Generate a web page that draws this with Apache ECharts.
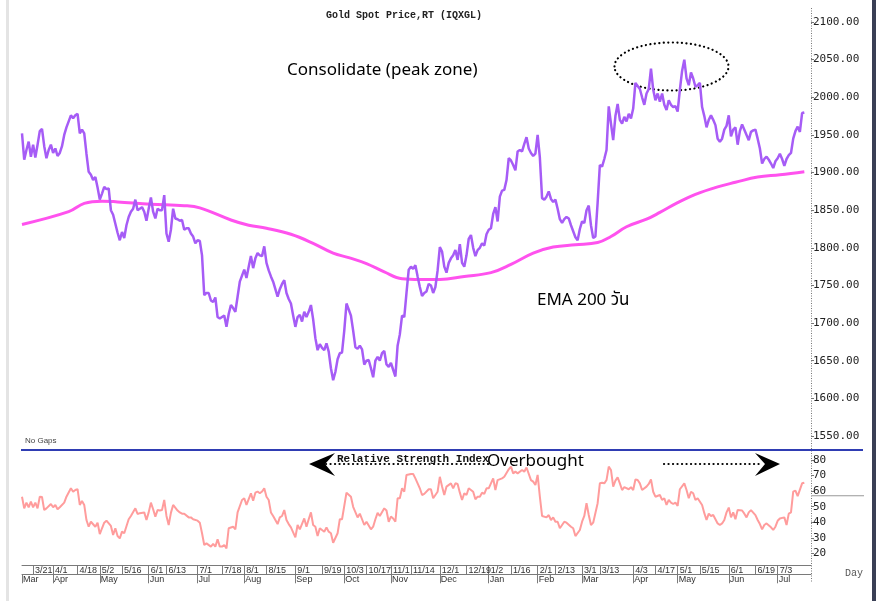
<!DOCTYPE html>
<html><head><meta charset="utf-8">
<script src="https://cdn.jsdelivr.net/npm/echarts@6/dist/echarts.min.js"></script>
<style>html,body{margin:0;padding:0;background:#fff}#c{width:880px;height:601px}</style>
</head><body><div id="c"></div>
<script>
// ---- calendar (weekday trading days) ----
const startDate = '2022-03-14';
const dayCount = 356;

// ---- Gold spot price, one value per trading day from startDate ----
const priceValues = [
1952,1917,1930,1941,1921,1937,1920,1937,1955,1958,
1935,1919,1930,1937,1926,1932,1922,1926,1935,1950,
1960,1968,1976,1972,1976,1978,1952,1957,1952,1925,
1901,1897,1890,1894,1880,1864,1872,1881,1878,1879,
1850,1844,1832,1820,1810,1821,1813,1830,1841,1848,
1852,1864,1850,1852,1854,1848,1836,1852,1867,1848,
1839,1852,1850,1850,1870,1819,1808,1824,1852,1839,
1838,1836,1837,1824,1826,1826,1819,1815,1806,1810,
1809,1790,1737,1740,1740,1730,1728,1734,1708,1706,
1708,1710,1695,1712,1724,1720,1715,1735,1755,1763,
1771,1760,1775,1789,1773,1786,1793,1790,1789,1802,
1780,1770,1762,1755,1745,1735,1745,1752,1757,1740,
1732,1726,1710,1695,1708,1711,1702,1715,1708,1715,
1724,1705,1680,1664,1672,1667,1664,1673,1662,1640,
1624,1635,1652,1660,1661,1690,1726,1718,1710,1690,
1668,1666,1670,1665,1645,1650,1651,1640,1628,1650,
1655,1650,1660,1663,1645,1642,1647,1638,1629,1670,
1685,1710,1708,1740,1771,1775,1772,1777,1762,1748,
1736,1740,1742,1752,1750,1740,1748,1770,1801,1795,
1775,1767,1780,1786,1790,1797,1784,1805,1780,1775,
1790,1812,1817,1800,1789,1797,1800,1806,1803,1818,
1824,1826,1845,1854,1835,1868,1876,1877,1890,1919,
1916,1910,1903,1928,1930,1928,1938,1947,1932,1926,
1922,1925,1950,1920,1866,1864,1868,1875,1865,1861,
1864,1852,1838,1833,1838,1841,1839,1830,1822,1814,
1810,1825,1835,1833,1850,1856,1830,1813,1815,1860,
1910,1908,1918,1930,1988,1965,1943,1975,1991,1970,
1965,1974,1968,1978,1972,1985,2019,2015,2011,2000,
1990,2005,2011,2038,2010,1996,2005,1994,2005,1990,
1983,1996,1990,1987,1988,1981,2010,2035,2050,2025,
2016,2033,2025,2014,2016,2019,1987,1975,1960,1970,
1976,1970,1963,1945,1941,1945,1957,1962,1976,1948,
1957,1960,1937,1955,1964,1957,1950,1943,1954,1956,
1957,1945,1932,1912,1918,1921,1917,1912,1906,1915,
1919,1925,1918,1909,1918,1923,1926,1945,1955,1961,
1954,1979,1979.75
];
const lastPrice = 1979.75;

// ---- EMA 200 readings: [trading-day index, value] ----
const emaPoints = [
[0,1831],[21,1848],[28,1859],[36,1862],[43,1861],[58,1858],[73,1856],[80,1853],
[94,1837],[102,1830],[110,1826],[121,1818],[131,1806],[140,1793],[147,1787],
[155,1779],[163,1768],[171,1759],[179,1758],[188,1758],[199,1762],[211,1767],
[220,1778],[230,1793],[239,1801],[249,1804],[259,1807],[265,1815],[272,1828],
[281,1838],[287,1847],[295,1860],[303,1871],[313,1881],[321,1887],[331,1894],
[341,1897],[352,1901]
];

// ---- RSI readings: [trading-day index, value] ----
const rsiPoints = [
[0,56.4],[1,48.9],[2,52.6],[3,49.6],[4,53.2],[5,49.6],[6,52.6],[7,48.9],[8,56.4],[9,56.2],
[10,47.8],[11,48.9],[13,51.7],[14,49.6],[15,51.1],[16,48.3],[17,49.6],[19,52.6],[20,56.4],
[22,61.8],[23,59.6],[24,60.7],[25,61.2],[26,51.1],[27,53.6],[28,51.1],[29,41.4],[30,37.1],
[31,40.3],[33,37.1],[34,39.7],[35,32.4],[36,36.1],[37,39.7],[38,41.0],[40,37.6],[41,31.8],
[42,36.1],[43,31.1],[44,29.6],[45,33.9],[46,32.9],[48,41.9],[49,44.0],[51,48.9],[52,45.3],
[53,45.8],[55,46.3],[56,41.4],[57,46.3],[58,52.6],[59,48.3],[60,43.6],[61,47.8],[62,47.5],
[63,47.8],[64,54.3],[65,44.0],[66,38.2],[67,46.0],[68,51.1],[70,47.5],[71,46.3],[72,45.5],
[73,45.5],[75,43.1],[76,43.1],[77,41.9],[79,41.0],[80,39.7],[81,32.9],[82,25.3],[83,26.4],
[85,24.3],[86,26.0],[87,24.3],[88,29.0],[89,24.3],[90,24.3],[91,25.3],[92,23.2],[93,36.1],
[95,37.1],[96,35.4],[97,46.3],[99,54.3],[100,55.4],[101,51.1],[103,58.6],[104,53.8],[105,59.0],
[106,59.7],[107,58.6],[108,59.7],[109,61.8],[110,56.4],[111,54.3],[112,46.3],[113,44.0],
[115,38.8],[116,43.1],[117,44.0],[118,47.8],[119,41.4],[120,38.8],[121,36.7],[123,30.3],
[124,38.2],[125,35.4],[127,42.4],[128,37.1],[129,41.9],[130,46.3],[131,38.2],[132,37.1],
[133,31.1],[134,36.1],[136,33.9],[137,36.7],[138,33.9],[139,32.9],[140,26.8],[142,32.9],
[143,41.9],[144,41.9],[146,59.0],[148,56.4],[149,49.9],[151,43.1],[152,45.5],[153,41.9],
[154,38.2],[155,40.3],[157,35.4],[158,37.1],[159,41.9],[160,46.0],[161,44.0],[163,48.9],
[164,47.5],[165,40.3],[166,43.6],[167,42.4],[168,40.3],[169,55.4],[170,55.4],[171,61.8],
[172,59.6],[173,70.4],[175,71.0],[176,71.0],[177,68.2],[179,61.8],[180,57.5],[181,58.2],
[183,61.2],[184,61.2],[185,55.4],[187,59.6],[188,69.2],[189,62.9],[190,57.5],[191,62.9],
[193,65.0],[194,61.8],[195,65.0],[196,64.6],[197,59.0],[198,54.3],[199,58.6],[200,57.5],
[201,61.8],[203,59.6],[204,54.7],[205,56.4],[206,56.4],[207,59.0],[208,58.2],[209,61.8],
[210,61.8],[211,65.0],[212,68.2],[213,60.7],[214,67.1],[216,68.2],[217,69.2],[219,74.0],
[220,75.7],[221,71.4],[222,72.5],[223,71.4],[225,73.6],[226,72.5],[227,75.2],[229,67.1],
[230,66.1],[231,63.9],[232,70.4],[233,56.4],[234,44.0],[236,43.1],[237,44.6],[238,41.4],
[239,43.1],[240,40.3],[241,40.3],[242,36.1],[244,40.3],[245,39.7],[247,37.1],[248,36.1],
[249,31.1],[251,35.0],[252,40.3],[253,44.0],[254,52.2],[255,44.6],[256,38.2],[257,39.7],
[259,52.2],[260,65.0],[261,65.4],[262,65.0],[263,67.1],[264,75.7],[265,73.6],[266,62.9],
[267,66.7],[268,68.8],[269,65.0],[270,60.7],[271,62.5],[273,61.2],[274,62.5],[275,60.7],
[276,67.5],[277,67.1],[278,65.0],[279,60.7],[281,62.9],[282,64.6],[283,67.5],[284,59.6],
[285,56.4],[287,57.5],[288,54.3],[289,55.4],[290,51.1],[291,54.3],[292,52.6],[293,51.7],
[294,52.6],[295,50.5],[296,61.2],[298,65.0],[299,60.7],[300,55.4],[301,59.6],[302,58.6],
[303,54.3],[304,55.4],[306,51.1],[307,45.8],[308,41.4],[309,45.5],[310,44.0],[311,44.6],
[313,39.2],[314,38.2],[315,39.2],[316,41.4],[317,46.3],[318,49.4],[319,43.1],[320,46.3],
[321,41.9],[322,47.8],[324,47.5],[325,45.5],[326,43.1],[327,46.3],[328,47.8],[330,44.6],
[331,41.4],[332,38.8],[333,35.4],[334,38.2],[335,39.2],[337,36.7],[338,35.0],[339,37.1],
[340,40.9],[341,42.4],[343,43.1],[344,38.2],[345,45.5],[346,46.3],[347,59.6],[348,60.3],
[349,56.8],[351,65.0],[352,65.4]
];
const rsiMarkerLevel = 57;

// ---- axis labels ----
const dayTickDates = ['2022-03-21','2022-04-01','2022-04-18','2022-05-02','2022-05-16','2022-06-01',
 '2022-06-13','2022-07-01','2022-07-18','2022-08-01','2022-08-15','2022-09-01','2022-09-19',
 '2022-10-03','2022-10-17','2022-11-01','2022-11-14','2022-12-01','2022-12-19','2023-01-02',
 '2023-01-16','2023-02-01','2023-02-13','2023-03-01','2023-03-13','2023-04-03','2023-04-17',
 '2023-05-01','2023-05-15','2023-06-01','2023-06-19','2023-07-03'];
const monthTickDates = ['2022-03-14','2022-04-01','2022-05-02','2022-06-01','2022-07-01','2022-08-01',
 '2022-09-01','2022-10-03','2022-11-01','2022-12-01','2023-01-02','2023-02-01','2023-03-01',
 '2023-04-03','2023-05-01','2023-06-01','2023-07-03'];
const monthNames = ['Jan','Feb','Mar','Apr','May','Jun','Jul','Aug','Sep','Oct','Nov','Dec'];

// build weekday categories
const categories = [];
(function(){
  const d = new Date(startDate + 'T00:00:00Z');
  while (categories.length < dayCount) {
    const w = d.getUTCDay();
    if (w !== 0 && w !== 6) categories.push(d.toISOString().slice(0,10));
    d.setUTCDate(d.getUTCDate() + 1);
  }
})();
const daySet = new Set(dayTickDates);
const monthSet = new Set(monthTickDates);
const fmtDay = v => { const p = v.split('-'); return (+p[1]) + '/' + (+p[2]); };
const fmtMonth = v => monthNames[+v.split('-')[1] - 1];

const chart = echarts.init(document.getElementById('c'), null, {renderer:'canvas'});
const axisFont = '"Liberation Sans Narrow","Liberation Sans",sans-serif';
const monoFont = '"DejaVu Sans Mono",monospace';

const option = {
  animation: false,
  backgroundColor: '#ffffff',
  grid: [
    {left: 22, right: 69, top: 22, height: 414},
    {left: 22, right: 69, top: 460, height: 93.3}
  ],
  xAxis: [
    {type:'category', gridIndex:0, data:categories, boundaryGap:false, show:false},
    {type:'category', gridIndex:1, data:categories, boundaryGap:false, position:'bottom', offset:12,
     axisLine:{lineStyle:{color:'#7a7a7a', width:1}},
     axisTick:{interval:(i,v)=>daySet.has(v), length:9, lineStyle:{color:'#7a7a7a'}},
     axisLabel:{interval:(i,v)=>daySet.has(v), formatter:fmtDay, align:'left', margin:1, padding:[0,0,0,2],
       fontSize:9, color:'#333', fontFamily:axisFont},
     splitLine:{show:false}},
    {type:'category', gridIndex:1, data:categories, boundaryGap:false, position:'bottom', offset:21,
     axisLine:{lineStyle:{color:'#7a7a7a', width:1}},
     axisTick:{interval:(i,v)=>monthSet.has(v), length:9, lineStyle:{color:'#7a7a7a'}},
     axisLabel:{interval:(i,v)=>monthSet.has(v), formatter:fmtMonth, align:'left', margin:1, padding:[0,0,0,1],
       fontSize:9, color:'#333', fontFamily:axisFont},
     splitLine:{show:false}}
  ],
  yAxis: [
    {type:'value', gridIndex:0, position:'right', min:1550, max:2100, interval:50,
     axisLine:{show:false}, axisTick:{show:true, length:3, lineStyle:{color:'#777'}},
     splitLine:{show:false},
     axisLabel:{formatter:v=>v.toFixed(2), fontFamily:monoFont, fontSize:11, color:'#222', margin:2}},
    {type:'value', gridIndex:1, position:'right', min:20, max:80, interval:10,
     axisLine:{show:false}, axisTick:{show:true, length:3, lineStyle:{color:'#777'}},
     splitLine:{show:false},
     axisLabel:{formatter:v=>String(v), fontFamily:monoFont, fontSize:11, color:'#222', margin:2}}
  ],
  series: [
    {name:'EMA 200', type:'line', xAxisIndex:0, yAxisIndex:0, data:emaPoints, smooth:0.4,
     showSymbol:false, lineStyle:{color:'#ff52ee', width:3}, z:2},
    {name:'Gold Spot', type:'line', xAxisIndex:0, yAxisIndex:0, data:priceValues,
     showSymbol:false, lineStyle:{color:'#a65cf6', width:2.5}, z:3,
     markLine:{silent:true, symbol:'none', animation:false,
       lineStyle:{opacity:0},
       label:{position:'end', distance:1, formatter:lastPrice.toFixed(2), backgroundColor:'#000', color:'#fff',
         fontFamily:monoFont, fontSize:11, padding:[1,1,0,1]},
       data:[{yAxis:lastPrice}]}},
    {name:'RSI', type:'line', xAxisIndex:1, yAxisIndex:1, data:rsiPoints,
     showSymbol:false, lineStyle:{color:'#ff9c9c', width:2}, z:3}
  ]
};
chart.setOption(option);

const yMark = chart.convertToPixel({yAxisIndex:1}, rsiMarkerLevel);
const dotStyle = {stroke:'#000', lineWidth:2.2, lineDash:[0.1,4.4], lineCap:'round', fill:'none'};
chart.setOption({graphic: [
  {type:'rect', shape:{x:6, y:0, width:3, height:601}, style:{fill:'#e4e4e4'}, silent:true},
  {type:'rect', shape:{x:872, y:0, width:4, height:601}, style:{fill:'#3a3f55'}, silent:true},
  {type:'line', shape:{x1:811.5, y1:8, x2:811.5, y2:583}, style:{stroke:'#777', lineWidth:1, lineDash:[1,1.5]}, silent:true},
  {type:'line', shape:{x1:21, y1:450, x2:863, y2:450}, style:{stroke:'#2f3db3', lineWidth:2}, silent:true},
  {type:'line', shape:{x1:812, y1:yMark, x2:864, y2:yMark}, style:{stroke:'#999', lineWidth:1}, silent:true},
  {type:'text', x:404, y:15, style:{text:'Gold Spot Price,RT (IQXGL)', font:'bold 10px "Liberation Mono"', fill:'#222', align:'center', verticalAlign:'middle'}},
  {type:'text', x:25, y:441, style:{text:'No Gaps', font:'8px "Liberation Sans"', fill:'#444', align:'left', verticalAlign:'middle'}},
  {type:'text', x:845, y:573, style:{text:'Day', font:'10px "Liberation Mono"', fill:'#555', align:'left', verticalAlign:'middle'}},
  {type:'text', x:287, y:70, style:{text:'Consolidate (peak zone)', font:'17px "Noto Sans"', fill:'#000', align:'left', verticalAlign:'middle'}},
  {type:'text', x:537, y:300, style:{text:'EMA 200 วัน', font:'17px "Noto Sans","Noto Sans Thai","Loma","Garuda",sans-serif', fill:'#000', align:'left', verticalAlign:'middle'}},
  {type:'ellipse', shape:{cx:671.5, cy:66.5, rx:57, ry:24}, style:dotStyle, silent:true},
  {type:'line', shape:{x1:326, y1:464, x2:490, y2:464}, style:dotStyle, silent:true},
  {type:'polygon', shape:{points:[[309,464],[335,453],[325,464],[335,476]]}, style:{fill:'#000'}, silent:true},
  {type:'text', x:337, y:459, style:{text:'Relative Strength Index', font:'bold 11px "Liberation Mono"', fill:'#111', align:'left', verticalAlign:'middle', backgroundColor:'transparent'}},
  {type:'text', x:487, y:461, style:{text:'Overbought', font:'17px "Noto Sans"', fill:'#000', align:'left', verticalAlign:'middle'}},
  {type:'line', shape:{x1:664, y1:464, x2:762, y2:464}, style:dotStyle, silent:true},
  {type:'polygon', shape:{points:[[780,464],[755,453],[765,464],[755,476]]}, style:{fill:'#000'}, silent:true}
]});
</script></body></html>
